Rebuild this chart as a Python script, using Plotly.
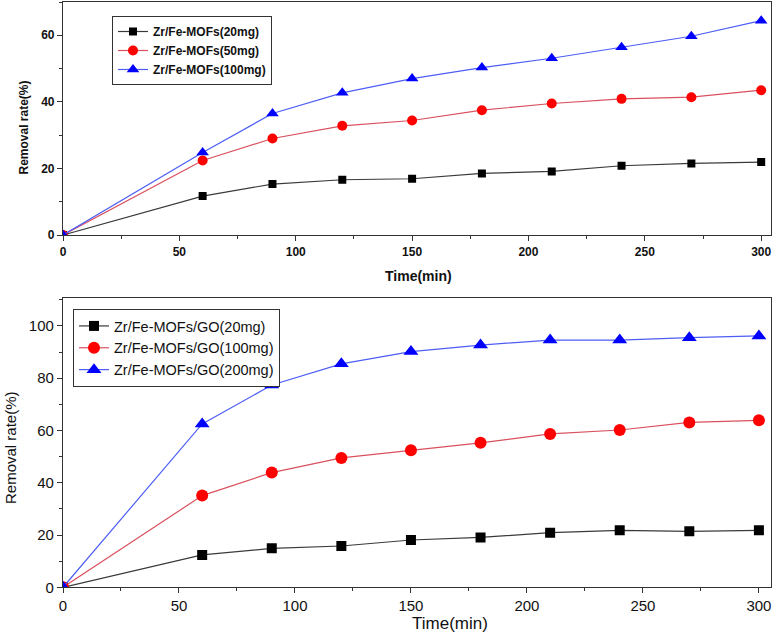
import plotly.graph_objects as go

time_min = [0, 60, 90, 120, 150, 180, 210, 240, 270, 300]

# Top panel: Zr/Fe-MOFs
mof_20 = [0, 11.7, 15.3, 16.6, 16.9, 18.5, 19.1, 20.8, 21.5, 21.9]
mof_50 = [0, 22.4, 29.0, 32.8, 34.4, 37.5, 39.5, 40.9, 41.4, 43.5]
mof_100 = [0, 24.8, 36.5, 42.7, 47.0, 50.3, 53.1, 56.4, 59.7, 64.4]

# Bottom panel: Zr/Fe-MOFs/GO
go_20 = [0, 12.4, 14.9, 15.8, 18.1, 19.1, 20.9, 21.8, 21.4, 21.8]
go_100 = [0, 35.1, 43.9, 49.5, 52.4, 55.3, 58.7, 60.2, 63.1, 63.9]
go_200 = [0, 62.5, 77.4, 85.5, 90.2, 92.7, 94.6, 94.6, 95.5, 96.2]

top_names = ["Zr/Fe-MOFs(20mg)", "Zr/Fe-MOFs(50mg)", "Zr/Fe-MOFs(100mg)"]
bot_names = ["Zr/Fe-MOFs/GO(20mg)", "Zr/Fe-MOFs/GO(100mg)", "Zr/Fe-MOFs/GO(200mg)"]

FONT = "Arial, Liberation Sans, sans-serif"
W, H = 776, 633

line_cols = ["#3a3a3a", "#d9505e", "#4d5ef5"]
mk_cols = ["#000000", "#ff0000", "#0000ff"]
symbols = ["square", "circle", "triangle-up"]

fig = go.Figure()

top_sizes = [8, 10, 11]
for ys, name, lc, mc, sym, sz in zip([mof_20, mof_50, mof_100], top_names, line_cols, mk_cols, symbols, top_sizes):
    fig.add_trace(go.Scatter(x=time_min, y=ys, name=name, mode="lines+markers",
                             line=dict(color=lc, width=1.2),
                             marker=dict(symbol=sym, size=sz, color=mc),
                             xaxis="x", yaxis="y", legend="legend"))

bot_sizes = [10, 12, 13]
for ys, name, lc, mc, sym, sz in zip([go_20, go_100, go_200], bot_names, line_cols, mk_cols, symbols, bot_sizes):
    fig.add_trace(go.Scatter(x=time_min, y=ys, name=name, mode="lines+markers",
                             line=dict(color=lc, width=1.2),
                             marker=dict(symbol=sym, size=sz, color=mc),
                             xaxis="x2", yaxis="y2", legend="legend2"))

xdom = [63 / W, 770.5 / W]
top_dom = [1 - 235 / H, 1 - 2 / H]
bot_dom = [1 - 587.3 / H, 1 - 298 / H]

axis_common = dict(showline=True, linecolor="#333333", linewidth=1.2, mirror=True,
                   ticks="outside", ticklen=5, tickcolor="#333333", tickwidth=1,
                   showgrid=False, zeroline=False, automargin=False)

fig.update_layout(
    width=W, height=H,
    margin=dict(l=0, r=0, t=0, b=0, autoexpand=False),
    paper_bgcolor="white", plot_bgcolor="white",
    font=dict(family=FONT, color="#111111"),
    xaxis=dict(domain=xdom, anchor="y", range=[0, 304], tickvals=[0, 50, 100, 150, 200, 250, 300],
               tickfont=dict(size=12, family=FONT, weight="bold"),
               minor=dict(ticks="outside", ticklen=3, tickcolor="#333333", dtick=25, tick0=0),
               **axis_common),
    yaxis=dict(domain=top_dom, anchor="x", range=[0, 70], tickvals=[0, 20, 40, 60],
               tickfont=dict(size=12, family=FONT, weight="bold"),
               minor=dict(ticks="outside", ticklen=3, tickcolor="#333333", dtick=10, tick0=0),
               **axis_common),
    xaxis2=dict(domain=xdom, anchor="y2", range=[0, 305], tickvals=[0, 50, 100, 150, 200, 250, 300],
                tickfont=dict(size=15, family=FONT),
                minor=dict(ticks="outside", ticklen=3, tickcolor="#333333", dtick=25, tick0=0),
                **axis_common),
    yaxis2=dict(domain=bot_dom, anchor="x2", range=[0, 110.7], tickvals=[0, 20, 40, 60, 80, 100],
                tickfont=dict(size=15, family=FONT),
                minor=dict(ticks="outside", ticklen=3, tickcolor="#333333", dtick=10, tick0=0),
                **axis_common),
    legend=dict(x=112 / W, y=1 - 16 / H, xanchor="left", yanchor="top",
                bordercolor="#333333", borderwidth=1, bgcolor="white",
                font=dict(size=12, family=FONT, weight="bold"),
                tracegroupgap=0, itemwidth=30),
    legend2=dict(x=73 / W, y=1 - 309 / H, xanchor="left", yanchor="top",
                 bordercolor="#333333", borderwidth=1, bgcolor="white",
                 font=dict(size=14.5, family=FONT),
                 tracegroupgap=0, itemwidth=30),
    annotations=[
        dict(text="Time(min)", x=418 / W, y=1 - 276 / H, xref="paper", yref="paper",
             xanchor="center", yanchor="middle",
             showarrow=False, font=dict(size=14, family=FONT, weight="bold")),
        dict(text="Removal rate(%)", x=23 / W, y=1 - 127.5 / H, xref="paper", yref="paper",
             xanchor="center", yanchor="middle",
             showarrow=False, textangle=-90, font=dict(size=12, family=FONT, weight="bold")),
        dict(text="Time(min)", x=450 / W, y=1 - 623 / H, xref="paper", yref="paper",
             xanchor="center", yanchor="middle",
             showarrow=False, font=dict(size=17, family=FONT)),
        dict(text="Removal rate(%)", x=10 / W, y=1 - 448 / H, xref="paper", yref="paper",
             xanchor="center", yanchor="middle",
             showarrow=False, textangle=-90, font=dict(size=15, family=FONT)),
    ],
)

fig.write_html("out.html", config={"displayModeBar": False},
               post_script="document.body.style.margin='0px';")
